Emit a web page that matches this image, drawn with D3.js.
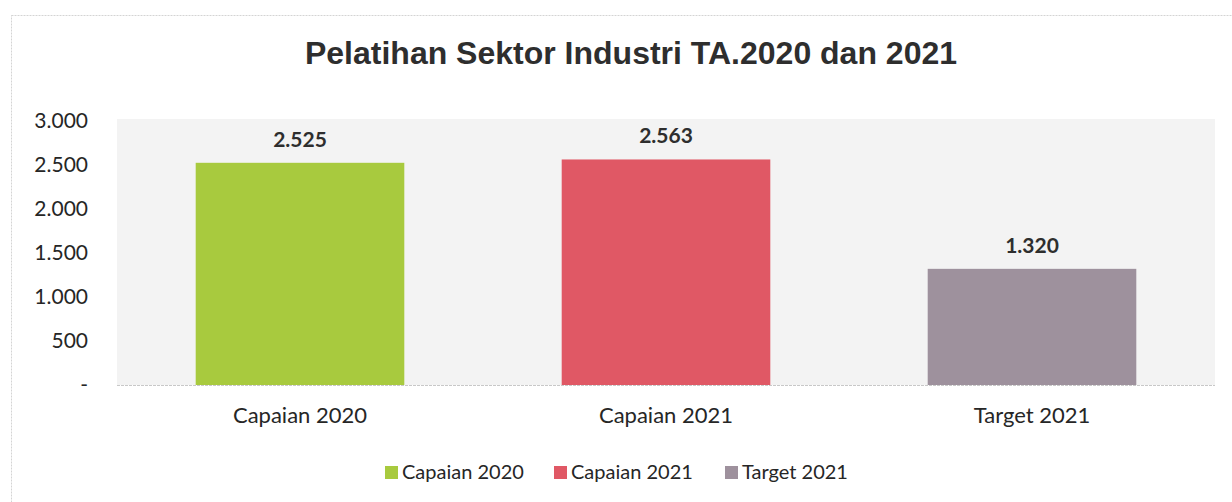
<!DOCTYPE html>
<html>
<head>
<meta charset="utf-8">
<script src="https://cdn.jsdelivr.net/npm/d3@7"></script>
<style>
  html, body { margin: 0; padding: 0; background: #ffffff; }
  svg { display: block; }
</style>
</head>
<body>
<div id="chart"></div>
<script>
// Training results for the industrial sector, FY 2020 and 2021
const categories = ["Capaian 2020", "Capaian 2021", "Target 2021"];
const values = [2525, 2563, 1320];
const colors = ["#a8ca3e", "#e05865", "#9e919d"];
const yTicks = [0, 500, 1000, 1500, 2000, 2500, 3000];
const title = "Pelatihan Sektor Industri TA.2020 dan 2021";

const W = 1232, H = 502;
const margin = { left: 117, right: 17, top: 121, bottom: 117 };
const plotBg = { top: 119 };

const fmt = v => v === 0 ? "-" : d3.format(",")(v).replace(/,/g, ".");
const labelFont = "Lato, 'Open Sans', sans-serif";

const svg = d3.select("#chart").append("svg")
  .attr("width", W).attr("height", H);

// chart frame
svg.append("rect")
  .attr("x", 11.5).attr("y", 15.5)
  .attr("width", W + 10).attr("height", H + 10)
  .attr("fill", "#ffffff")
  .attr("stroke", "#d4d4d4")
  .attr("stroke-dasharray", "2,1");

const x = d3.scaleBand()
  .domain(categories)
  .range([margin.left, W - margin.right])
  .paddingInner(0.43)
  .paddingOuter(0.215);

const y = d3.scaleLinear()
  .domain([0, 3000])
  .range([H - margin.bottom, margin.top]);

// plot area background
svg.append("rect")
  .attr("x", margin.left)
  .attr("y", plotBg.top)
  .attr("width", W - margin.right - margin.left)
  .attr("height", y(0) - plotBg.top)
  .attr("fill", "#f3f3f3");

// baseline
svg.append("line")
  .attr("x1", margin.left).attr("x2", W - margin.right)
  .attr("y1", y(0) + 0.5).attr("y2", y(0) + 0.5)
  .attr("stroke", "#c8c8c8")
  .attr("stroke-dasharray", "3,1");

// title
svg.append("text")
  .attr("x", 631).attr("y", 64)
  .attr("text-anchor", "middle")
  .attr("font-family", "'Liberation Sans', Arial, sans-serif")
  .attr("font-weight", "bold")
  .attr("font-size", 32)
  .attr("fill", "#2e2e2e")
  .text(title);

// y axis
const yAxis = d3.axisLeft(y)
  .tickValues(yTicks)
  .tickFormat(fmt)
  .tickSize(0)
  .tickPadding(29);
const gy = svg.append("g")
  .attr("transform", `translate(${margin.left},0)`)
  .call(yAxis);
gy.select(".domain").remove();
gy.selectAll("text")
  .attr("font-family", labelFont)
  .attr("font-size", 21)
  .attr("fill", "#262626");

// x axis
const xAxis = d3.axisBottom(x).tickSize(0).tickPadding(22);
const gx = svg.append("g")
  .attr("transform", `translate(0,${y(0)})`)
  .call(xAxis);
gx.select(".domain").remove();
gx.selectAll("text")
  .attr("font-family", labelFont)
  .attr("font-size", 22)
  .attr("fill", "#262626");

// bars
svg.selectAll("rect.bar")
  .data(values)
  .join("rect")
  .attr("class", "bar")
  .attr("x", (d, i) => x(categories[i]))
  .attr("y", d => y(d))
  .attr("width", x.bandwidth())
  .attr("height", d => y(0) - y(d))
  .attr("fill", (d, i) => colors[i]);

// value labels
svg.selectAll("text.val")
  .data(values)
  .join("text")
  .attr("class", "val")
  .attr("x", (d, i) => x(categories[i]) + x.bandwidth() / 2)
  .attr("y", d => y(d) - 16)
  .attr("text-anchor", "middle")
  .attr("font-family", labelFont)
  .attr("font-weight", "bold")
  .attr("font-size", 21)
  .attr("fill", "#2e2e2e")
  .text(fmt);

// legend
const legendX = [385, 554, 725];
const lg = svg.selectAll("g.legend")
  .data(categories)
  .join("g")
  .attr("class", "legend")
  .attr("transform", (d, i) => `translate(${legendX[i]},472)`);
lg.append("rect")
  .attr("x", 0).attr("y", -6)
  .attr("width", 13).attr("height", 13)
  .attr("fill", (d, i) => colors[i]);
lg.append("text")
  .attr("x", 17).attr("y", 0)
  .attr("dy", "0.35em")
  .attr("font-family", labelFont)
  .attr("font-size", 20)
  .attr("fill", "#262626")
  .text(d => d);
</script>
</body>
</html>
